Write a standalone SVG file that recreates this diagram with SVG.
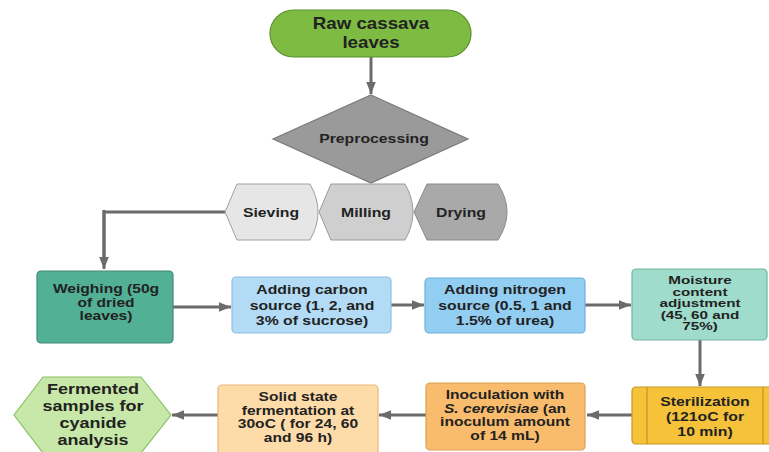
<svg xmlns="http://www.w3.org/2000/svg" width="769" height="452" viewBox="0 0 769 452">
<defs>
<marker id="ah" viewBox="0 0 10 10" refX="10" refY="5" markerWidth="4" markerHeight="4" orient="auto" markerUnits="strokeWidth">
<path d="M0,1 L10,5 L0,9 z" fill="#6b6b6b"/>
</marker>
<style>
.t{font-family:"Liberation Sans",Arial,sans-serif;font-weight:bold;fill:#222;text-anchor:middle}
.s16{font-size:16px}
.s13{font-size:13.5px}
.s12{font-size:12px}
.s11{font-size:10.5px}
.s15{font-size:15px}
.c{fill:none;stroke:#6b6b6b;stroke-width:3;marker-end:url(#ah)}
.pl{fill:none;stroke:#6b6b6b;stroke-width:3}
</style>
</defs>
<rect width="769" height="452" fill="#ffffff"/>

<g id="connectors">
<path class="c" d="M371,57 L371,94"/>
<path class="pl" d="M226,212 L104,212 L104,258"/>
<path class="c" d="M104,210 L104,269"/>
<path class="c" d="M173,307 L231,307"/>
<path class="c" d="M391,305 L424,305"/>
<path class="c" d="M585,305 L631,305"/>
<path class="c" d="M700,340 L700,386"/>
<path class="c" d="M632,415 L587,415"/>
<path class="c" d="M426,415 L379,415"/>
<path class="c" d="M218,415 L172,415"/>
</g>

<g id="raw">
<rect x="270" y="10" width="201" height="47" rx="23.5" fill="#7dbb42" stroke="#5a8f2c" stroke-width="1.2"/>
<text class="t s16" transform="translate(371,29) scale(1.17,1)">Raw cassava</text>
<text class="t s16" transform="translate(371,48) scale(1.17,1)">leaves</text>
</g>

<g id="preprocessing">
<path d="M371,95 L468,139 L371,183 L273,139 Z" fill="#9a9a9a" stroke="#7a7a7a" stroke-width="1.2"/>
<text class="t s13" transform="translate(374,143) scale(1.17,1)">Preprocessing</text>
</g>

<g id="drying">
<path d="M414,212 L427,184 L498,184 Q507,198 507,212 Q507,226 498,240 L427,240 Z" fill="#a9a9a9" stroke="#8a8a8a" stroke-width="1"/>
<text class="t s13" transform="translate(461,217) scale(1.17,1)">Drying</text>
</g>
<g id="milling">
<path d="M319,212 L331,184 L405,184 Q413,198 413,212 Q413,226 405,240 L331,240 Z" fill="#cfcfcf" stroke="#9a9a9a" stroke-width="1"/>
<text class="t s13" transform="translate(366,217) scale(1.17,1)">Milling</text>
</g>
<g id="sieving">
<path d="M225,212 L237,184 L310,184 Q318,198 318,212 Q318,226 310,240 L237,240 Z" fill="#e6e6e6" stroke="#a0a0a0" stroke-width="1"/>
<text class="t s13" transform="translate(271,217) scale(1.17,1)">Sieving</text>
</g>

<g id="weighing">
<rect x="37" y="271" width="136" height="72" rx="4" fill="#52b094" stroke="#3e8a73" stroke-width="1.2"/>
<text class="t s12" transform="translate(106,293) scale(1.3,1)">Weighing (50g</text>
<text class="t s12" transform="translate(106,306.5) scale(1.3,1)">of dried</text>
<text class="t s12" transform="translate(106,320) scale(1.3,1)">leaves)</text>
</g>

<g id="carbon">
<rect x="232" y="277" width="159" height="56" rx="4" fill="#b3dbf5" stroke="#90bfdf" stroke-width="1.2"/>
<text class="t s13" transform="translate(312,294) scale(1.17,1)">Adding carbon</text>
<text class="t s13" transform="translate(312,309.5) scale(1.17,1)">source (1, 2, and</text>
<text class="t s13" transform="translate(312,325) scale(1.17,1)">3% of sucrose)</text>
</g>

<g id="nitrogen">
<rect x="425" y="278" width="160" height="55" rx="4" fill="#92cdf2" stroke="#70b0dc" stroke-width="1.2"/>
<text class="t s13" transform="translate(505,294) scale(1.17,1)">Adding nitrogen</text>
<text class="t s13" transform="translate(505,309.5) scale(1.17,1)">source (0.5, 1 and</text>
<text class="t s13" transform="translate(505,325) scale(1.17,1)">1.5% of urea)</text>
</g>

<g id="moisture">
<rect x="632" y="269" width="135" height="71" rx="4" fill="#a0dccb" stroke="#6fb5a0" stroke-width="1.2"/>
<text class="t s11" transform="translate(700,284) scale(1.45,1)">Moisture</text>
<text class="t s11" transform="translate(700,295.5) scale(1.45,1)">content</text>
<text class="t s11" transform="translate(700,307) scale(1.45,1)">adjustment</text>
<text class="t s11" transform="translate(700,318.5) scale(1.45,1)">(45, 60 and</text>
<text class="t s11" transform="translate(700,330) scale(1.45,1)">75%)</text>
</g>

<g id="sterilization">
<rect x="632" y="387" width="145" height="57" rx="4" fill="#f6c23a" stroke="#c79520" stroke-width="1.2"/>
<path d="M647,387 L647,444 M763,387 L763,444" stroke="#b88a20" stroke-width="1"/>
<text class="t s13" transform="translate(705,406) scale(1.17,1)">Sterilization</text>
<text class="t s13" transform="translate(705,421) scale(1.17,1)">(121oC for</text>
<text class="t s13" transform="translate(705,436) scale(1.17,1)">10 min)</text>
</g>

<g id="inoculation">
<rect x="426" y="383" width="159" height="67" rx="4" fill="#f9bc6c" stroke="#dba055" stroke-width="1.2"/>
<text class="t s12" transform="translate(505,399) scale(1.3,1)">Inoculation with</text>
<text class="t s12" transform="translate(505,412.5) scale(1.3,1)"><tspan font-style="italic">S. cerevisiae</tspan> (an</text>
<text class="t s12" transform="translate(505,426) scale(1.3,1)">inoculum amount</text>
<text class="t s12" transform="translate(505,439.5) scale(1.3,1)">of 14 mL)</text>
</g>

<g id="solid">
<rect x="218" y="385" width="160" height="75" rx="4" fill="#fddcaa" stroke="#e8b878" stroke-width="1.2"/>
<text class="t s12" transform="translate(298,401) scale(1.3,1)">Solid state</text>
<text class="t s12" transform="translate(298,414.5) scale(1.3,1)">fermentation at</text>
<text class="t s12" transform="translate(298,428) scale(1.3,1)">30oC ( for 24, 60</text>
<text class="t s12" transform="translate(298,441.5) scale(1.3,1)">and 96 h)</text>
</g>

<g id="fermented">
<path d="M43,377 L141,377 L171,415 L141,453 L43,453 L14,415 Z" fill="#c7e8a8" stroke="#8cc066" stroke-width="1.2"/>
<text class="t s15" transform="translate(93,394) scale(1.2,1)">Fermented</text>
<text class="t s15" transform="translate(93,411) scale(1.2,1)">samples for</text>
<text class="t s15" transform="translate(93,428) scale(1.2,1)">cyanide</text>
<text class="t s15" transform="translate(93,445) scale(1.2,1)">analysis</text>
</g>
</svg>
